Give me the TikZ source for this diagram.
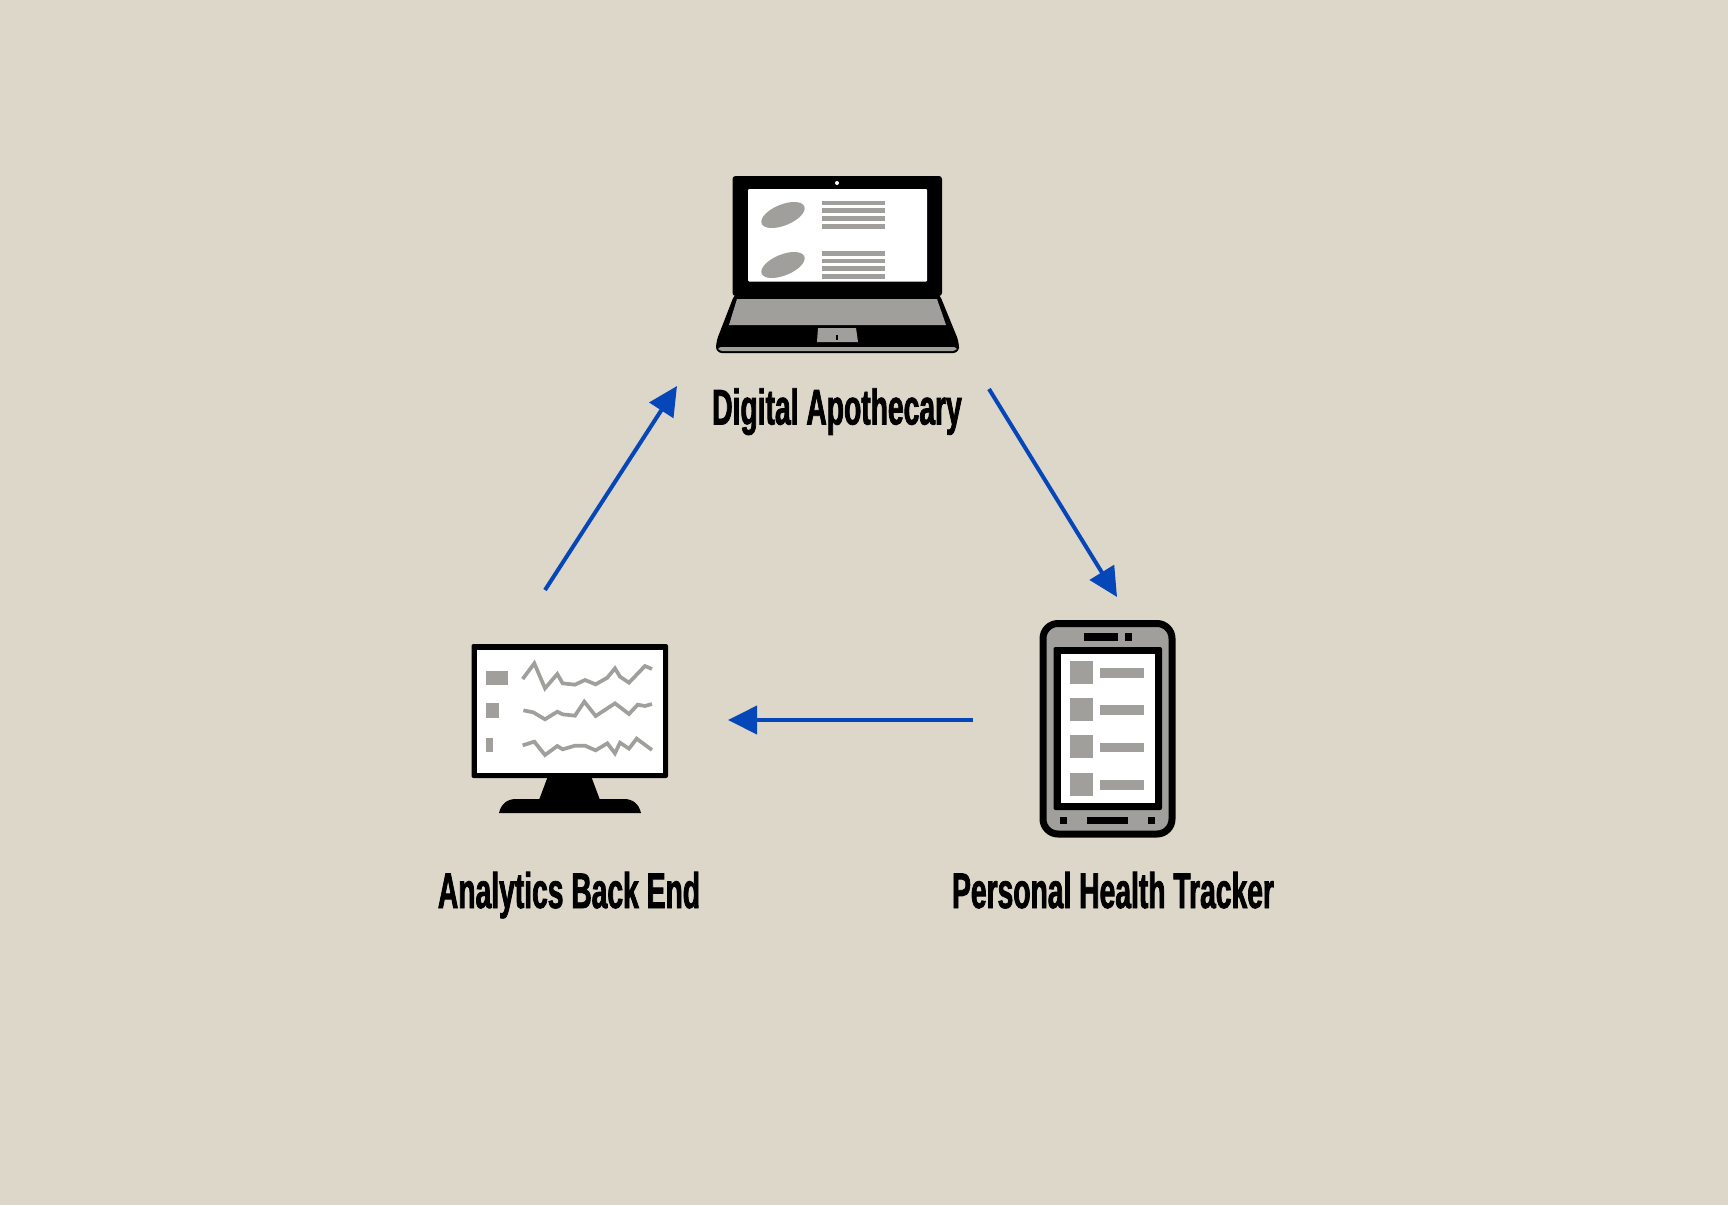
\documentclass[tikz,border=0pt]{standalone}
\usepackage{fontspec}
\usetikzlibrary{arrows.meta}
\newfontfamily\labelfont[FakeStretch=0.565,BoldFeatures={FakeBold=1.5}]{Liberation Sans}
\definecolor{paper}{HTML}{DDD7C9}
\definecolor{icongray}{HTML}{A09F9C}
\definecolor{flowblue}{HTML}{0546B8}
\tikzset{
  devicelabel/.style={anchor=base, inner sep=0pt, font=\labelfont\bfseries\fontsize{50}{50}\selectfont},
  flowarrow/.style={-{Triangle[length=29pt,width=28pt]}, line width=4pt, flowblue},
  blackpart/.style={fill=black},
  graypart/.style={fill=icongray},
  whitepart/.style={fill=white},
  trace/.style={draw=icongray, line width=3.7pt}
}
\begin{document}
\begin{tikzpicture}[x=1pt,y=-1pt]
  \useasboundingbox (0,0) rectangle (1728,1205);
  \fill[paper] (0,0) rectangle (1728,1205);

  % laptop
  \fill[blackpart, rounded corners=3pt] (732.5,176) rectangle (942,296);
  \fill[whitepart, rounded corners=1pt] (748,189) rectangle (927,281.5);
  \fill[whitepart] (837,183) circle (2);
  \fill[blackpart, rounded corners=6pt] (735,293) -- (716,342) -- (716,353) -- (959,353) -- (959,342) -- (939,293) -- cycle;
  \fill[graypart, rounded corners=3pt] (718,347) -- (719,351) -- (956,351) -- (957,347) -- cycle;
  \fill[graypart] (737,299) -- (937,299) -- (946,325) -- (729,325) -- cycle;
  \fill[graypart] (818,328) -- (856,328) -- (858,342) -- (817,342) -- cycle;
  \fill[blackpart] (836.3,335) rectangle (837.8,340);
  \foreach \y in {215,265} {
    \fill[graypart, rotate around={22:(783,\y)}] (783,\y) ellipse (23 and 10.5);
  }
  \foreach \y in {200.7,208.3,216,224,251,258.7,266.3,274} {
    \fill[graypart] (822,\y) rectangle (885,\y+4.6);
  }

  % monitor
  \fill[blackpart, rounded corners=2pt] (471.5,644) rectangle (668,778);
  \fill[whitepart] (477,650) rectangle (663,773);
  \fill[blackpart] (548,776) -- (591,776) -- (600,800) -- (539,800) -- cycle;
  \fill[blackpart] (499,813) .. controls (501,804) and (507,799) .. (516,799) -- (624,799) .. controls (633,799) and (639,804) .. (641,813) -- cycle;
  \fill[graypart] (486,671) rectangle (508,685);
  \fill[graypart] (486,703) rectangle (499,718);
  \fill[graypart] (486,738) rectangle (493,752);
  \begin{scope}[shift={(450,630)}, x=0.3333pt, y=-0.3333pt]
    \draw[trace] (218,147) -- (253,100) -- (285,175) -- (322,132) -- (338,160) -- (375,164) -- (405,150) -- (437,163) -- (472,143) -- (495,115) -- (510,140) -- (537,158) -- (585,108) -- (606,117);
    \draw[trace] (220,241) -- (250,247) -- (285,268) -- (322,245) -- (338,253) -- (375,257) -- (403,215) -- (437,258) -- (495,220) -- (537,252) -- (563,224) -- (585,228) -- (606,222);
    \draw[trace] (218,346) -- (253,335) -- (285,375) -- (322,348) -- (338,358) -- (375,347) -- (405,347) -- (437,361) -- (472,340) -- (495,370) -- (510,338) -- (537,356) -- (560,326) -- (606,360);
  \end{scope}

  % phone
  \draw[graypart, draw=black, line width=7pt, rounded corners=15pt] (1043,623.5) rectangle (1172,834);
  \fill[blackpart, rounded corners=2pt] (1053.5,647) rectangle (1162,810);
  \fill[whitepart] (1061,654) rectangle (1155,803);
  \fill[blackpart] (1084,633) rectangle (1118,641);
  \fill[blackpart] (1125,633) rectangle (1132,641);
  \fill[blackpart] (1060,817) rectangle (1067,824);
  \fill[blackpart] (1087,817) rectangle (1128,824);
  \fill[blackpart] (1148,817) rectangle (1155,824);
  \foreach \y in {660.5,698,735.3,772.7} {
    \fill[graypart] (1070,\y) rectangle (1093,\y+23);
    \fill[graypart] (1100,\y+7.3) rectangle (1144,\y+17);
  }

  \node[devicelabel] (apothecary) at (837,424.5) {Digital Apothecary};
  \node[devicelabel] (analytics) at (569,908) {Analytics Back End};
  \node[devicelabel] (tracker) at (1113,908) {Personal Health Tracker};

  \coordinate (analytics out) at (545,590);
  \coordinate (apothecary in) at (677,386);
  \coordinate (apothecary out) at (989,389);
  \coordinate (tracker in) at (1117,597);
  \coordinate (tracker out) at (973,720);
  \coordinate (analytics in) at (728,720);

  \draw[flowarrow] (analytics out) -- (apothecary in);
  \draw[flowarrow] (apothecary out) -- (tracker in);
  \draw[flowarrow] (tracker out) -- (analytics in);
\end{tikzpicture}
\end{document}
